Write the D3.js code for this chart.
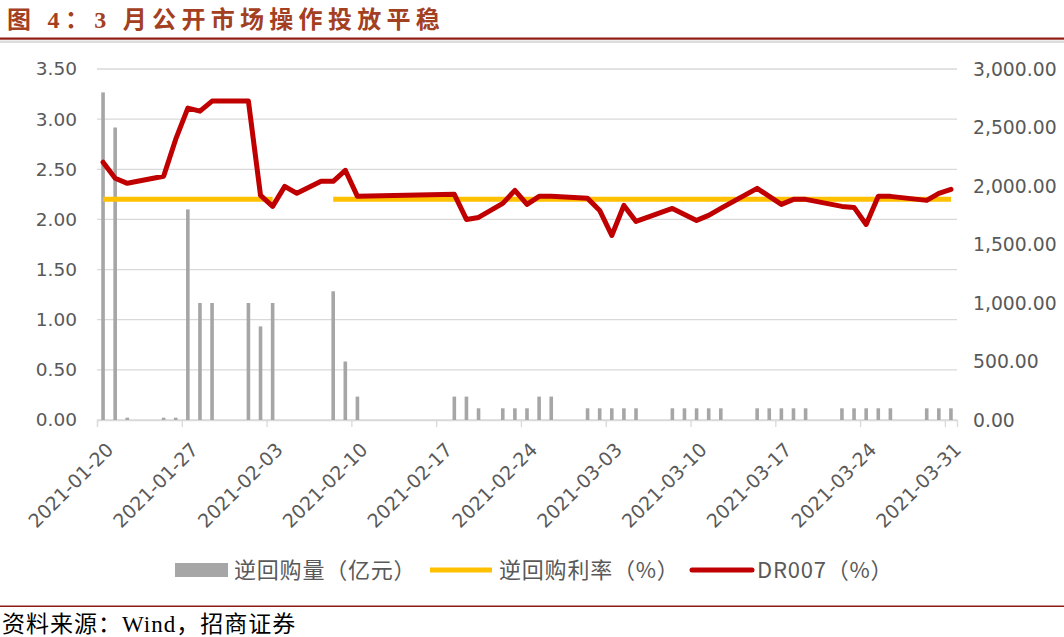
<!DOCTYPE html>
<html><head><meta charset="utf-8">
<script src="https://cdn.jsdelivr.net/npm/d3@7"></script>
<style>
html,body{margin:0;padding:0;background:#fff;}
svg{display:block;}
</style></head>
<body>
<svg id="c" width="1064" height="637"></svg>
<script>
// ---- data ----
const dates = ["2021-01-20","2021-01-21","2021-01-22","2021-01-25","2021-01-26","2021-01-27","2021-01-28","2021-01-29",
"2021-02-01","2021-02-02","2021-02-03","2021-02-04","2021-02-05","2021-02-07","2021-02-08","2021-02-09","2021-02-10",
"2021-02-18","2021-02-19","2021-02-20","2021-02-22","2021-02-23","2021-02-24","2021-02-25","2021-02-26",
"2021-03-01","2021-03-02","2021-03-03","2021-03-04","2021-03-05","2021-03-08","2021-03-09","2021-03-10","2021-03-11","2021-03-12",
"2021-03-15","2021-03-16","2021-03-17","2021-03-18","2021-03-19","2021-03-22","2021-03-23","2021-03-24","2021-03-25","2021-03-26",
"2021-03-29","2021-03-30","2021-03-31"];
const repoVolume = [2800,2500,20,20,20,1800,1000,1000,
1000,800,1000,null,null,null,1100,500,200,
200,200,100,100,100,100,200,200,
100,100,100,100,100,100,100,100,100,100,
100,100,100,100,100,100,100,100,100,100,
100,100,100];
const repoRate = [2.2,2.2,2.2,2.2,2.2,2.2,2.2,2.2,
2.2,2.2,2.2,null,null,null,2.2,2.2,2.2,
2.2,2.2,2.2,2.2,2.2,2.2,2.2,2.2,
2.2,2.2,2.2,2.2,2.2,2.2,2.2,2.2,2.2,2.2,
2.2,2.2,2.2,2.2,2.2,2.2,2.2,2.2,2.2,2.2,
2.2,2.2,2.2];
const dr007 = [2.57,2.41,2.36,2.43,2.80,3.11,3.08,3.18,
3.18,2.24,2.13,2.33,2.26,2.38,2.38,2.49,2.23,
2.25,2.00,2.02,2.16,2.29,2.15,2.23,2.23,
2.21,2.09,1.84,2.14,1.98,2.11,2.05,1.99,2.04,2.11,
2.31,2.23,2.15,2.20,2.20,2.13,2.12,1.95,2.23,2.23,
2.19,2.26,2.30];
const xTickLabels = ["2021-01-20","2021-01-27","2021-02-03","2021-02-10","2021-02-17","2021-02-24",
"2021-03-03","2021-03-10","2021-03-17","2021-03-24","2021-03-31"];
const leftTicks = [0,0.5,1,1.5,2,2.5,3,3.5];
const rightTicks = [0,500,1000,1500,2000,2500,3000];
const seriesNames = ["逆回购量（亿元）","逆回购利率（%）","DR007（%）"];
const titleText = "图 4：3 月公开市场操作投放平稳";
const sourceText = "资料来源：Wind，招商证券";

// ---- layout ----
const svg = d3.select("#c");
const parse = d3.utcParse("%Y-%m-%d");
const L = 97, R = 957, T = 69, B = 420;
const x = d3.scaleUtc().domain([parse("2021-01-20"), parse("2021-04-01")]).range([L, R]);
const yL = d3.scaleLinear().domain([0, 3.5]).range([B, T]);
const yR = d3.scaleLinear().domain([0, 3000]).range([B, T]);
const cx = d => x(d3.utcHour.offset(parse(d), 12));
const axisFont = "'DejaVu Sans', sans-serif";
const grey = "#595959";

// title
svg.append("text").attr("x", 7).attr("y", 28)
  .attr("font-family", "'Liberation Serif','Noto Sans CJK SC',serif").attr("font-weight", "bold")
  .attr("font-size", 24).attr("letter-spacing", 5.3).attr("fill", "#a3401f").text(titleText);
svg.append("rect").attr("x", 0).attr("y", 37.5).attr("width", 1064).attr("height", 2.2).attr("fill", "#8e1b14");
svg.append("rect").attr("x", 0).attr("y", 40.5).attr("width", 1064).attr("height", 2.5).attr("fill", "#dcdcdc");

// gridlines
svg.append("g").selectAll("line").data(leftTicks).join("line")
  .attr("x1", L).attr("x2", R).attr("y1", d => yL(d)).attr("y2", d => yL(d))
  .attr("stroke", "#d9d9d9").attr("stroke-width", 1.3);

// x axis
const xAxis = d3.axisBottom(x).tickValues(xTickLabels.map(parse)).tickSize(7).tickFormat(d3.utcFormat("%Y-%m-%d"));
const gx = svg.append("g").attr("transform", `translate(0,${B})`).call(xAxis);
gx.select(".domain").attr("stroke", "#d9d9d9").attr("stroke-width", 1.3);
gx.selectAll(".tick line").attr("stroke", "#d9d9d9").attr("stroke-width", 1.3);
gx.selectAll(".tick text").attr("font-family", axisFont).attr("font-size", 19).attr("fill", grey)
  .attr("text-anchor", "end").attr("dy", 0).attr("y", 0)
  .attr("transform", "translate(17,31) rotate(-45)");

// left axis
const gl = svg.append("g").attr("transform", `translate(${L},0)`)
  .call(d3.axisLeft(yL).tickValues(leftTicks).tickFormat(d3.format(".2f")).tickSize(0).tickPadding(20));
gl.select(".domain").remove();
gl.selectAll("text").attr("font-family", axisFont).attr("font-size", 18.5).attr("fill", grey);

// right axis
const gr = svg.append("g").attr("transform", `translate(${R},0)`)
  .call(d3.axisRight(yR).tickValues(rightTicks).tickFormat(d3.format(",.2f")).tickSize(0).tickPadding(16));
gr.select(".domain").remove();
gr.selectAll("text").attr("font-family", axisFont).attr("font-size", 18.8).attr("fill", grey);

// bars
const bw = 3.6;
svg.append("g").selectAll("rect").data(dates.map((d, i) => ({d, v: repoVolume[i]})).filter(o => o.v != null))
  .join("rect")
  .attr("x", o => cx(o.d) - bw / 2).attr("width", bw)
  .attr("y", o => yR(o.v)).attr("height", o => B - yR(o.v))
  .attr("fill", "#a6a6a6");

// rate line
const rateLine = d3.line().defined(o => o.v != null).x(o => cx(o.d)).y(o => yL(o.v));
svg.append("path").datum(dates.map((d, i) => ({d, v: repoRate[i]})))
  .attr("d", rateLine).attr("fill", "none").attr("stroke", "#ffc000").attr("stroke-width", 5);

// DR007
svg.append("path").datum(dates.map((d, i) => ({d, v: dr007[i]})))
  .attr("d", rateLine).attr("fill", "none").attr("stroke", "#c00000").attr("stroke-width", 5)
  .attr("stroke-linejoin", "round").attr("stroke-linecap", "round");

// legend
const lg = svg.append("g").attr("font-family", "'Noto Sans CJK SC', sans-serif").attr("font-size", 22)
  .attr("letter-spacing", 0.8).attr("fill", grey);
const ly = 570;
lg.append("rect").attr("x", 175).attr("y", ly - 7).attr("width", 53).attr("height", 14).attr("fill", "#a6a6a6");
lg.append("text").attr("x", 234).attr("y", ly).attr("dy", "0.35em").text(seriesNames[0]);
lg.append("line").attr("x1", 430).attr("x2", 492).attr("y1", ly).attr("y2", ly).attr("stroke", "#ffc000").attr("stroke-width", 5);
lg.append("text").attr("x", 499).attr("y", ly).attr("dy", "0.35em").text(seriesNames[1]);
lg.append("line").attr("x1", 692).attr("x2", 752).attr("y1", ly).attr("y2", ly).attr("stroke", "#c00000").attr("stroke-width", 5).attr("stroke-linecap", "round");
lg.append("text").attr("x", 757).attr("y", ly).attr("dy", "0.35em").text(seriesNames[2]);

// source
svg.append("rect").attr("x", 0).attr("y", 605.5).attr("width", 1064).attr("height", 1.5).attr("fill", "#8e1b14");
svg.append("text").attr("x", 2).attr("y", 632)
  .attr("font-family", "'Liberation Serif','Noto Sans CJK SC',serif").attr("font-size", 23).attr("letter-spacing", 1)
  .attr("fill", "#000").text(sourceText);
</script>
</body></html>
